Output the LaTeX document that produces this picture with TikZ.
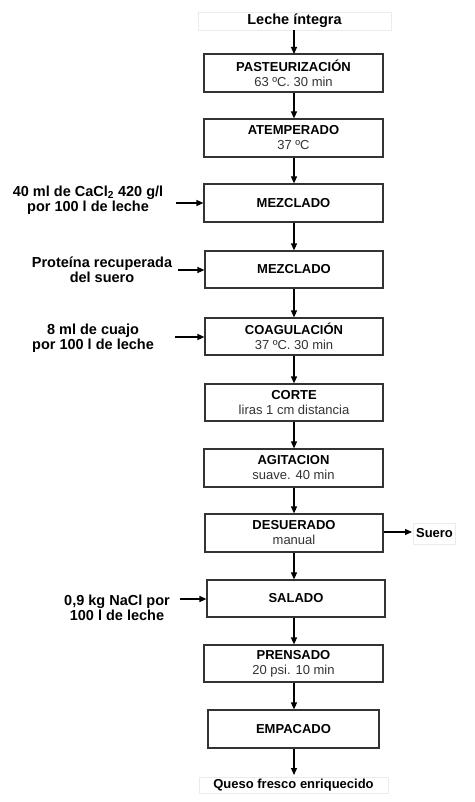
\documentclass[tikz,border=0pt]{standalone}
\usepackage{fontspec}
\setmainfont{Liberation Sans}
\usetikzlibrary{arrows.meta}
\begin{document}
\begin{tikzpicture}[x=1pt,y=-1pt,
  procbox/.style={draw=black!80,line width=1.2pt,minimum width=179pt,minimum height=38pt,inner sep=0pt,align=center,font=\fontsize{13}{15}\selectfont},
  endbox/.style={draw=black!8,line width=0.8pt,inner sep=0pt,font=\bfseries\fontsize{13}{14}\selectfont},
  sidelab/.style={align=center,font=\bfseries\fontsize{14.5}{15}\selectfont,inner sep=0pt},
  arr/.style={-{Triangle[length=7pt,width=6pt]},line width=1.2pt,black}]
\useasboundingbox (0,0) rectangle (474,802);
\fill[white] (0,0) rectangle (474,802);
% end nodes
\node[endbox,minimum width=193pt,minimum height=18pt,font=\bfseries\fontsize{14.5}{15}\selectfont] (leche) at (294.5,21) {Leche íntegra};
\node[endbox,minimum width=189pt,minimum height=16pt] (queso) at (293.5,785) {Queso fresco enriquecido};
\node[endbox,minimum width=42pt,minimum height=21pt] (suero) at (434.5,533.5) {Suero};
% process boxes
\node[procbox] (past) at (293.5,73) {\textbf{PASTEURIZACIÓN}\\{\color{black!80}63 ºC. 30 min}};
\node[procbox] (atemp) at (293.5,138) {\textbf{ATEMPERADO}\\{\color{black!80}37 ºC}};
\node[procbox] (mez1) at (293.5,203) {\textbf{MEZCLADO}};
\node[procbox,minimum width=178pt,minimum height=37pt] (mez2) at (294,269.5) {\textbf{MEZCLADO}};
\node[procbox,minimum width=178pt,minimum height=37pt] (coag) at (294,336.5) {\textbf{COAGULACIÓN}\\{\color{black!80}37 ºC. 30 min}};
\node[procbox,minimum width=178pt,minimum height=37pt] (corte) at (294,402.5) {\textbf{CORTE}\\{\color{black!80}liras 1 cm distancia}};
\node[procbox] (agit) at (293.5,468) {\textbf{AGITACION}\\{\color{black!80}suave. 40 min}};
\node[procbox,minimum width=178pt] (desu) at (294,533) {\textbf{DESUERADO}\\{\color{black!80}manual}};
\node[procbox,minimum width=178pt,minimum height=37pt] (salado) at (296,598.5) {\textbf{SALADO}};
\node[procbox,minimum height=37pt] (prens) at (293.5,663.5) {\textbf{PRENSADO}\\{\color{black!80}20 psi. 10 min}};
\node[procbox,minimum width=171pt] (empac) at (293.5,729) {\textbf{EMPACADO}};
% side labels
\node[sidelab] (l1) at (88,200.5) {40 ml de CaCl\textsubscript{2} 420 g/l\\por 100 l de leche};
\node[sidelab] (l2) at (102,270) {Proteína recuperada\\del suero};
\node[sidelab] (l3) at (93,338.5) {8 ml de cuajo\\por 100 l de leche};
\node[sidelab] (l4) at (117,607.5) {0,9 kg NaCl por\\100 l de leche};
\coordinate (c1) at (176,203);
\coordinate (c2) at (178,270);
\coordinate (c3) at (175,337);
\coordinate (c4) at (180,599);
% main flow
\draw[arr] (leche.south -| 294,0) -- (294,54);
\draw[arr] (past.south -| 294,0) -- (atemp.north -| 294,0);
\draw[arr] (atemp.south -| 294,0) -- (mez1.north -| 294,0);
\draw[arr] (mez1.south -| 294,0) -- (mez2.north -| 294,0);
\draw[arr] (mez2.south -| 294,0) -- (coag.north -| 294,0);
\draw[arr] (coag.south -| 294,0) -- (corte.north -| 294,0);
\draw[arr] (corte.south -| 294,0) -- (agit.north -| 294,0);
\draw[arr] (agit.south -| 294,0) -- (desu.north -| 294,0);
\draw[arr] (desu.south -| 294,0) -- (salado.north -| 294,0);
\draw[arr] (salado.south -| 294,0) -- (prens.north -| 294,0);
\draw[arr] (prens.south -| 294,0) -- (empac.north -| 294,0);
\draw[arr] (empac.south -| 294,0) -- (294,775);
% side inputs and output
\draw[arr] (c1) -- (c1 -| mez1.west);
\draw[arr] (c2) -- (c2 -| mez2.west);
\draw[arr] (c3) -- (c3 -| coag.west);
\draw[arr] (c4) -- (c4 -| salado.west);
\draw[arr] (desu.east |- 0,532) -- (412,532);
\end{tikzpicture}
\end{document}
